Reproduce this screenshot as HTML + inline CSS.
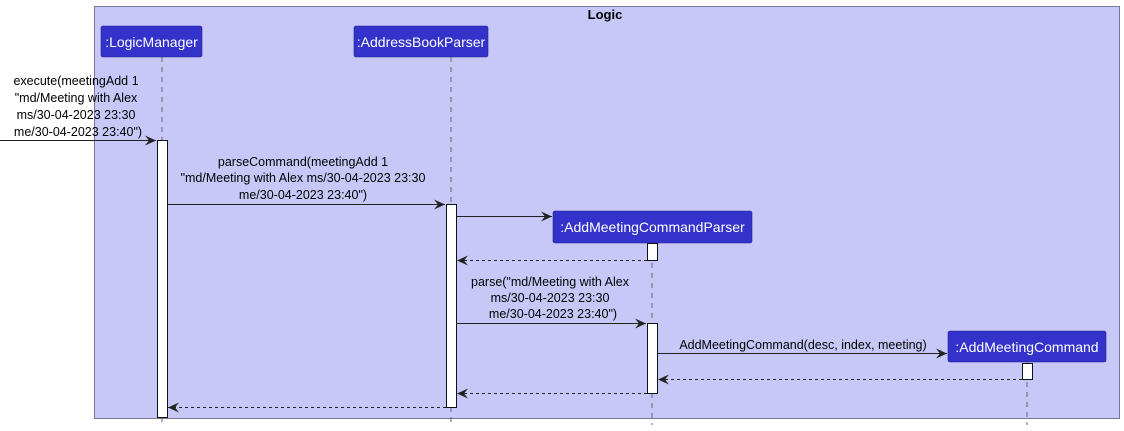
<!DOCTYPE html>
<html><head><meta charset="utf-8"><style>
html,body{margin:0;padding:0;background:#fff;}
svg{display:block;font-family:"Liberation Sans",sans-serif;}
</style></head><body>
<svg width="1124" height="431" viewBox="0 0 1124 431" xmlns="http://www.w3.org/2000/svg">
<defs>
<marker id="a" markerWidth="12" markerHeight="10" refX="11" refY="5" orient="auto" markerUnits="userSpaceOnUse">
<path d="M0,0 L11,5 L0,10 L4,5 Z" fill="#222"/></marker>
</defs>
<rect x="94.5" y="6.5" width="1025" height="412" fill="#C8C8F8" stroke="#77779a" stroke-width="1"/>
<text x="605" y="19" font-size="13" font-weight="bold" text-anchor="middle" fill="#000">Logic</text>
<g stroke="#666" stroke-dasharray="5,5" stroke-width="1">
<line x1="162" y1="57" x2="162" y2="425"/>
<line x1="451" y1="57" x2="451" y2="425"/>
<line x1="652" y1="243" x2="652" y2="425"/>
<line x1="1027" y1="362" x2="1027" y2="425"/>
</g>
<g fill="#3333CC" stroke="#22228a" stroke-width="0.6">
<rect x="101" y="26" width="101" height="31" rx="2"/>
<rect x="354" y="26" width="134" height="31" rx="2"/>
<rect x="553" y="211" width="199" height="32" rx="2"/>
<rect x="948" y="331" width="158" height="31" rx="2"/>
</g>
<g fill="#fff" font-size="14" text-anchor="middle">
<text x="151.5" y="47">:LogicManager</text>
<text x="421" y="47">:AddressBookParser</text>
<text x="652.5" y="232">:AddMeetingCommandParser</text>
<text x="1027" y="352">:AddMeetingCommand</text>
</g>
<g fill="#fff" stroke="#111" stroke-width="1">
<rect x="157.5" y="140.5" width="10" height="277"/>
<rect x="446.5" y="204.5" width="10" height="203"/>
<rect x="647.5" y="243.5" width="10" height="17"/>
<rect x="647.5" y="323.5" width="10" height="70"/>
<rect x="1022.5" y="363.5" width="10" height="16"/>
</g>
<g stroke="#222" stroke-width="1" fill="none" marker-end="url(#a)">
<line x1="0" y1="140.5" x2="156" y2="140.5"/>
<line x1="168" y1="204.5" x2="445" y2="204.5"/>
<line x1="457" y1="216.5" x2="552" y2="216.5"/>
<line x1="457" y1="323.5" x2="646" y2="323.5"/>
<line x1="658" y1="353.5" x2="947" y2="353.5"/>
</g>
<g stroke="#222" stroke-width="1" fill="none" stroke-dasharray="3,3" marker-end="url(#a)">
<line x1="647" y1="260.5" x2="457" y2="260.5"/>
<line x1="1022" y1="379.5" x2="658" y2="379.5"/>
<line x1="647" y1="393.5" x2="457" y2="393.5"/>
<line x1="446" y1="407.5" x2="168" y2="407.5"/>
</g>
<g fill="#000" font-size="12.5" text-anchor="middle">
<text x="76" y="85">execute(meetingAdd 1</text>
<text x="76" y="102">"md/Meeting with Alex</text>
<text x="76" y="119">ms/30-04-2023 23:30</text>
<text x="78" y="136">me/30-04-2023 23:40")</text>
<text x="303" y="166">parseCommand(meetingAdd 1</text>
<text x="303" y="182">"md/Meeting with Alex ms/30-04-2023 23:30</text>
<text x="303" y="199">me/30-04-2023 23:40")</text>
<text x="550" y="286">parse("md/Meeting with Alex</text>
<text x="550" y="302">ms/30-04-2023 23:30</text>
<text x="553" y="318">me/30-04-2023 23:40")</text>
<text x="803" y="349">AddMeetingCommand(desc, index, meeting)</text>
</g>
</svg>
</body></html>
